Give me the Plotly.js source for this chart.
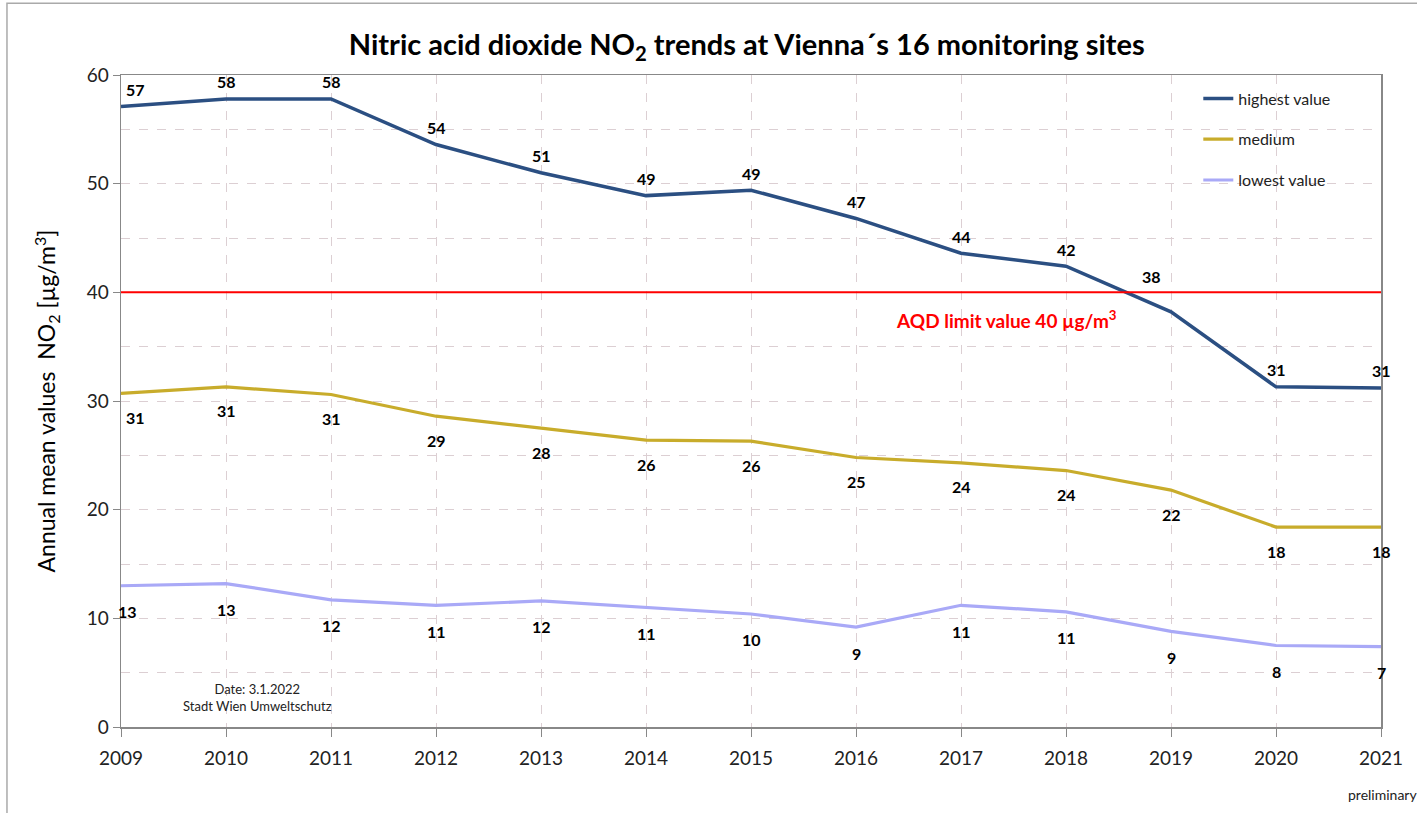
<!DOCTYPE html>
<html><head><meta charset="utf-8">
<script src="https://cdn.plot.ly/plotly-3.0.1.min.js"></script>
<style>body{margin:0;background:#fff}#c{width:1417px;height:813px}</style>
</head><body><div id="c"></div>
<script>
const years = [2009,2010,2011,2012,2013,2014,2015,2016,2017,2018,2019,2020,2021];
const highest = [57.1,57.8,57.8,53.6,51.0,48.9,49.4,46.8,43.6,42.4,38.2,31.3,31.2];
const medium  = [30.7,31.3,30.6,28.6,27.5,26.4,26.3,24.8,24.3,23.6,21.8,18.4,18.4];
const lowest  = [13.0,13.2,11.7,11.2,11.6,11.0,10.4,9.2,11.2,10.6,8.8,7.5,7.4];
const limitValue = 40;
const seriesNames = ['highest value','medium','lowest value'];
const colors = ['#2b4f82','#c8ac2b','#a9a9f7'];

const traces = [highest, medium, lowest].map((v,i)=>({
  x: years, y: v, type:'scatter', mode:'lines', name: seriesNames[i],
  legendgroup:'g'+i,
  line:{color:colors[i], width: i===0?3.5:3.2},
  hoverinfo:'x+y'
}));
traces.push({x:[2009,2021], y:[limitValue,limitValue], type:'scatter', mode:'lines',
  line:{color:'#ff0000', width:2}, showlegend:false, hoverinfo:'skip'});

const ann = [];
const FF = 'Lato, Noto Sans, sans-serif';
const lblFont = {family:FF, size:16, color:'#000', weight:'bold'};
function addLabels(vals, yshift, xshifts, yshifts){
  vals.forEach((v,i)=>{
    ann.push({x:years[i], y:v, xref:'x', yref:'y', text:String(Math.round(v)),
      showarrow:false, font:lblFont,
      yshift: (yshifts && yshifts[i]!==undefined) ? yshifts[i] : yshift,
      xshift: (xshifts[i]||0)});
  });
}
addLabels(highest, 17, {0:14, 10:-20}, {10:35});
addLabels(medium, -24, {0:14});
addLabels(lowest, -26, {0:6});
ann.push({x:2017.43, y:37.5, xref:'x', yref:'y', text:'<b>AQD limit value 40 µg/m<sup>3</sup></b>',
  showarrow:false, font:{family:FF, size:19, color:'#ff0000'}});
ann.push({x:2010.3, y:2.75, xref:'x', yref:'y', text:'Date: 3.1.2022<br>Stadt Wien Umweltschutz',
  showarrow:false, font:{family:FF, size:13, color:'#222'}});
ann.push({x:1.03, y:-0.12, xref:'paper', yref:'paper', text:'preliminary', xanchor:'right',
  showarrow:false, font:{family:FF, size:14, color:'#222'}});

const layout = {
  width:1417, height:813,
  margin:{l:121, r:36, t:75, b:86},
  paper_bgcolor:'#fff', plot_bgcolor:'#fff',
  font:{family:FF, color:'#222'},
  title:{text:'<b>Nitric acid dioxide NO<sub>2</sub> trends at Vienna´s 16 monitoring sites</b>',
    x:0.527, xanchor:'center', y:0.945, yanchor:'middle',
    font:{family:FF, size:29, color:'#000'}},
  xaxis:{range:[2009,2021], tickvals:years, ticktext:years.map(String),
    showgrid:true, gridcolor:'#dccfd3', griddash:'dash', gridwidth:1,
    showline:true, linecolor:'#888', linewidth:1.5, mirror:true,
    ticks:'outside', ticklen:8, tickcolor:'#888', ticklabelstandoff:6,
    tickfont:{size:19, color:'#222'}, zeroline:false},
  yaxis:{range:[0,60], dtick:10, tick0:0,
    showgrid:true, gridcolor:'#dccfd3', griddash:'dash', gridwidth:1,
    minor:{dtick:5, showgrid:true, gridcolor:'#dccfd3', griddash:'dash', gridwidth:1},
    showline:true, linecolor:'#888', linewidth:1.5, mirror:true,
    ticks:'outside', ticklen:7, tickcolor:'#888',
    tickfont:{size:19, color:'#222'}, zeroline:false,
    title:{text:'Annual mean values  NO<sub>2</sub> [µg/m<sup>3</sup>]', standoff:24,
      font:{size:23, color:'#000'}}},
  legend:{x:0.855, y:0.99, xanchor:'left', yanchor:'top', bgcolor:'rgba(0,0,0,0)',
    traceorder:'grouped', tracegroupgap:17, font:{size:16, color:'#222'}, itemwidth:30},
  showlegend:true,
  annotations: ann,
  shapes:[{type:'rect', xref:'paper', yref:'paper', x0:-0.0905, x1:1.2, y0:-0.5, y1:1.11,
    line:{color:'#aaa', width:1.5}, fillcolor:'rgba(0,0,0,0)', layer:'below'}]
};
Plotly.newPlot('c', traces, layout, {displayModeBar:false, staticPlot:true});
</script></body></html>
